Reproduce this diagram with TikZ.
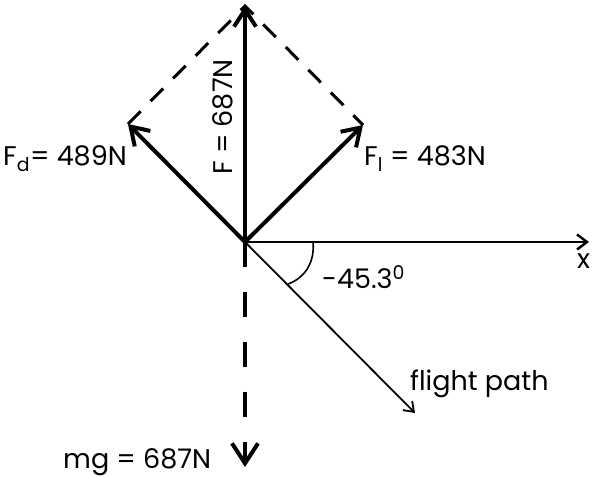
\documentclass[tikz,border=0pt]{standalone}
\usepackage{fontspec}
\setmainfont{Poppins}
\usetikzlibrary{arrows.meta, positioning}

\begin{document}
\begin{tikzpicture}[x=1pt, y=-1pt,
  vec/.style={line width=4pt, -{Straight Barb[length=17pt, width=22pt]}},
  comp/.style={line width=3pt, dash pattern=on 18pt off 14pt},
  axis/.style={line width=2.4pt, -{Straight Barb[length=10pt, width=15pt]}},
  path/.style={line width=1.8pt, -{Straight Barb[length=9pt, width=13pt]}},
  weight/.style={line width=4pt, dash pattern=on 25pt off 25pt, -{Straight Barb[length=20pt, width=26pt]}},
  lbl/.style={inner sep=0pt, font=\fontsize{27}{31}\selectfont}]
  \useasboundingbox (0,0) rectangle (592,478);

  \coordinate (O) at (245,242);
  \coordinate (Ftip) at (245,6);
  \coordinate (Fdtip) at (128,124);
  \coordinate (Fltip) at (363,125);
  \coordinate (xend) at (589,242);
  \coordinate (fpend) at (415,413);
  \coordinate (mgend) at (245,467);

  % resultant and components
  \draw[comp] (Fdtip) -- (Ftip) -- (Fltip);
  \draw[vec] (O) -- (Ftip);
  \draw[vec] (O) -- (Fdtip);
  \draw[vec] (O) -- (Fltip);

  % axis, flight path and weight
  \draw[axis] (O) -- (xend);
  \draw[path] (O) -- (fpend);
  \draw[weight] (O) -- (mgend);

  % angle
  \draw[line width=1.6pt] (313,242) .. controls (315,262) and (305,278) .. (288,284);

  \node[lbl, anchor=base east] (fdlabel) at (127,166) {F\textsubscript{d}= 489N};
  \node[lbl, anchor=base west] (fllabel) at (364,166) {F\textsubscript{l} = 483N};
  \node[lbl, rotate=90, anchor=base] (flabel) at (232,117) {F = 687N};
  \node[lbl, anchor=base west] (anglelabel) at (322,289) {-45.3\textsuperscript{0}};
  \node[lbl, anchor=base west] (xlabel) at (577,269) {x};
  \node[lbl, anchor=base west] (fplabel) at (410,391) {flight path};
  \node[lbl, anchor=base west] (mglabel) at (63,468) {mg = 687N};
\end{tikzpicture}
\end{document}
